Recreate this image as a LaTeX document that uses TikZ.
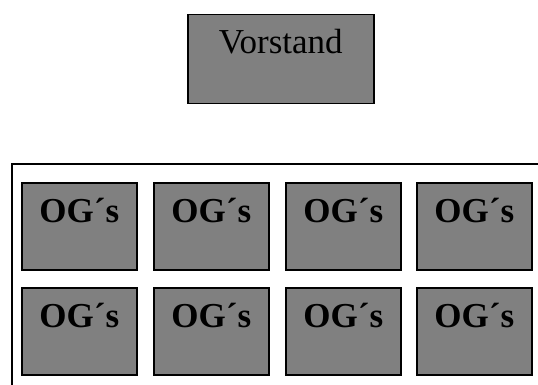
\documentclass[tikz,border=0pt]{standalone}
\usepackage{fontspec}
\setmainfont{Liberation Serif}
\usetikzlibrary{positioning}

\begin{document}
\begin{tikzpicture}[x=1pt, y=-1pt,
    box/.style={draw, fill=gray, line width=1.5pt, inner sep=0pt, font=\fontsize{35}{35}\selectfont},
    og/.style={box, font=\fontsize{35}{35}\selectfont\bfseries, minimum width=115pt, text height=40pt, text depth=47pt},
    chef/.style={box, minimum width=186pt, text height=39pt, text depth=50pt}
]
    \useasboundingbox (0,0) rectangle (538,385);

    % Vorstand on top
    \node[chef, anchor=north west] (vorstand) at (187,14) {Vorstand};

    % Frame round the groups
    \draw[line width=2.4pt] (12,385) -- (12,164) -- (538,164);

    % Two rows of OG boxes
    \foreach \r/\y in {1/182, 2/287} {
        \foreach \c/\x in {1/21, 2/153, 3/285, 4/416} {
            \node[og, anchor=north west] (og\r\c) at (\x,\y) {OG´s};
        }
    }
\end{tikzpicture}
\end{document}
